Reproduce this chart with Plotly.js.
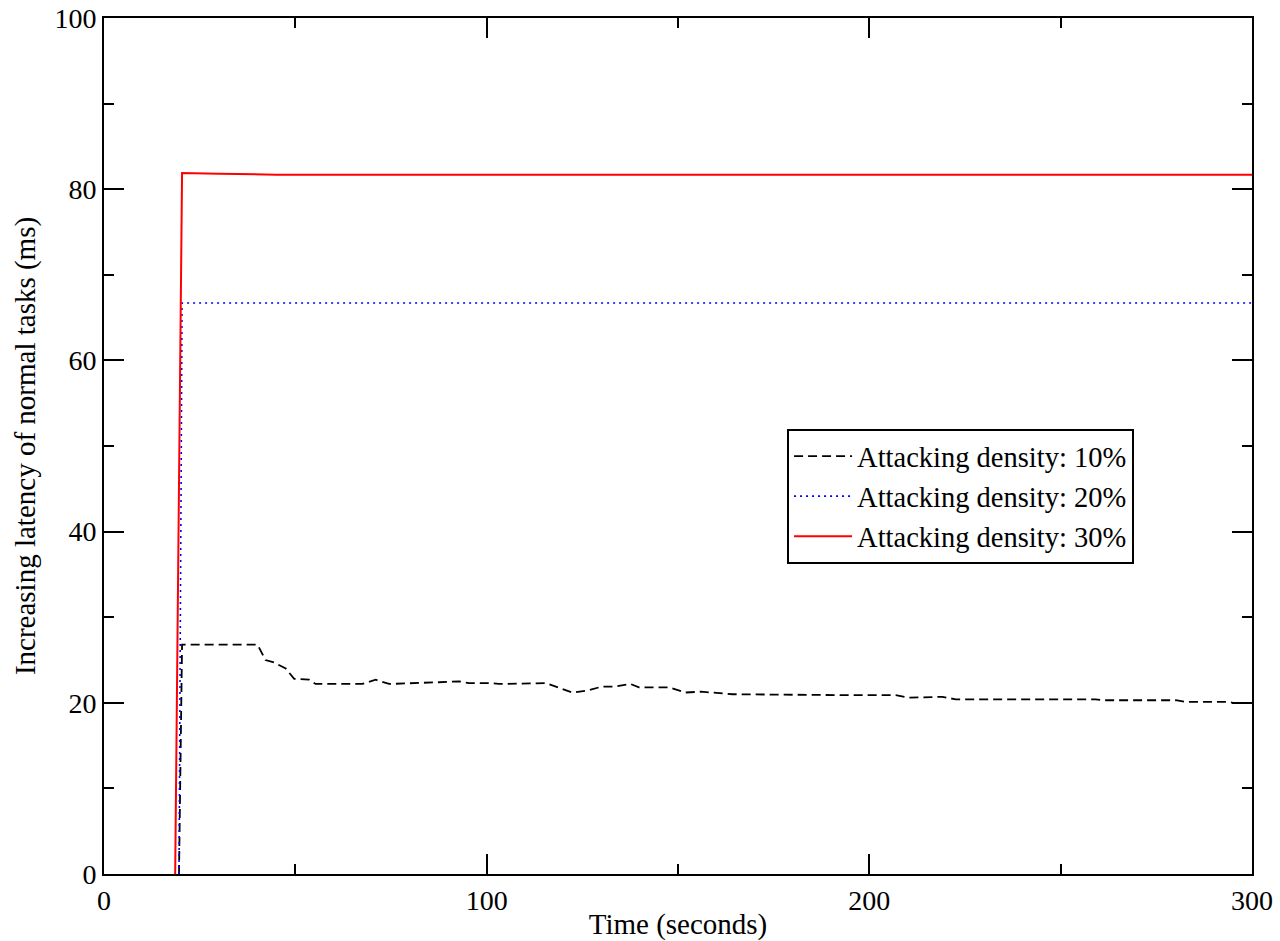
<!DOCTYPE html>
<html>
<head>
<meta charset="utf-8">
<script src="https://cdn.plot.ly/plotly-3.0.1.min.js"></script>
<style>html,body{margin:0;padding:0;background:#fff;}#chart{width:1280px;height:941px;}</style>
</head>
<body>
<div id="chart"></div>
<script>
// Series data
const d10_t = [19.6, 20.4, 40.1, 42.2, 44.5, 47.5, 49.7, 53.6, 55.3, 67.5, 71.0, 74.5, 87.5, 92.8, 95.4, 101.4, 103.2, 115.4, 122.4, 125.9, 130.2, 133.7, 137.6, 139.8, 147.6, 152.0, 156.0, 159.8, 164.2, 192.0, 206.9, 210.4, 219.1, 222.6, 259.1, 261.7, 280.1, 282.7, 294.0, 295.0, 300.0];
const d10_v = [0, 26.8, 26.8, 25.0, 24.7, 24.0, 22.8, 22.7, 22.2, 22.2, 22.7, 22.2, 22.4, 22.5, 22.3, 22.3, 22.2, 22.3, 21.2, 21.4, 21.9, 21.9, 22.2, 21.8, 21.8, 21.2, 21.3, 21.2, 21.0, 20.9, 20.9, 20.6, 20.7, 20.4, 20.4, 20.3, 20.3, 20.1, 20.1, 20.0, 20.0];
const d20_t = [19.6, 20.4, 300];
const d20_v = [0, 66.7, 66.7];
const d30_t = [18.6, 20.4, 30, 45, 300];
const d30_v = [0, 81.9, 81.8, 81.7, 81.7];
const names = ["Attacking density: 10%", "Attacking density: 20%", "Attacking density: 30%"];
const xTitle = "Time (seconds)";
const yTitle = "Increasing latency of normal tasks (ms)";

const FONT = "'Liberation Serif', 'Times New Roman', serif";
const traces = [
  {x: d10_t, y: d10_v, name: names[0], mode: "lines", line: {color: "#000000", width: 1.8, dash: "9px,5px"}},
  {x: d20_t, y: d20_v, name: names[1], mode: "lines", line: {color: "#0000ff", width: 1.6, dash: "2px,4px"}},
  {x: d30_t, y: d30_v, name: names[2], mode: "lines", line: {color: "#ff0000", width: 2}}
];
const axisCommon = {
  showline: true, linecolor: "#000", linewidth: 2, mirror: "ticks",
  ticks: "inside", ticklen: 20, tickwidth: 2, tickcolor: "#000",
  showgrid: false, zeroline: false,
  tickfont: {family: FONT, size: 28, color: "#000"}
};
const layout = {
  width: 1280, height: 941,
  margin: {l: 104, r: 28, t: 18, b: 67},
  paper_bgcolor: "#fff", plot_bgcolor: "#fff",
  font: {family: FONT, color: "#000"},
  showlegend: true,
  legend: {
    x: 0.595, y: 0.441, xanchor: "left", yanchor: "middle",
    bgcolor: "#fff", bordercolor: "#000", borderwidth: 2,
    font: {family: FONT, size: 28.5, color: "#000"},
    itemwidth: 58
  },
  xaxis: Object.assign({}, axisCommon, {
    range: [0, 300], dtick: 100, tick0: 0,
    minor: {dtick: 50, ticks: "inside", ticklen: 10, tickwidth: 2, tickcolor: "#000"},
    title: {text: xTitle, font: {family: FONT, size: 29, color: "#000"}, standoff: 2}
  }),
  yaxis: Object.assign({}, axisCommon, {
    range: [0, 100], dtick: 20, tick0: 0,
    minor: {dtick: 10, ticks: "inside", ticklen: 10, tickwidth: 2, tickcolor: "#000"},
    title: {text: yTitle, font: {family: FONT, size: 29, color: "#000"}, standoff: 10}
  })
};
Plotly.newPlot("chart", traces, layout, {staticPlot: true});
</script>
</body>
</html>
